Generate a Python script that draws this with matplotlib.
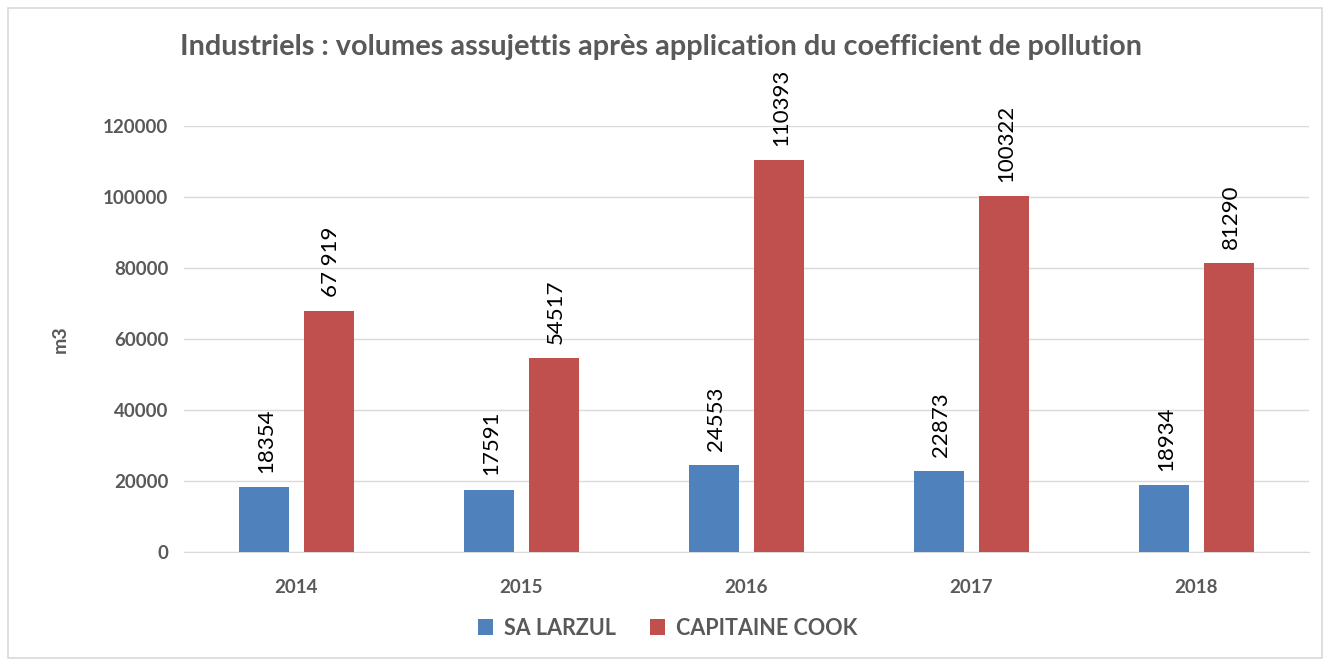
import numpy as np
import matplotlib.pyplot as plt
from matplotlib.patches import Rectangle

annees = ["2014", "2015", "2016", "2017", "2018"]
larzul = [18354, 17591, 24553, 22873, 18934]
cook = [67919, 54517, 110393, 100322, 81290]
lab_larzul = ["18354", "17591", "24553", "22873", "18934"]
lab_cook = ["67 919", "54517", "110393", "100322", "81290"]

plt.rcParams['font.family'] = ['Lato', 'DejaVu Sans']
gris = "#595959"

fig = plt.figure(figsize=(13.3, 6.66), dpi=100)
fig.patches.append(Rectangle((0.006, 0.012), 0.988, 0.976, transform=fig.transFigure,
                             fill=False, edgecolor="#d9d9d9", linewidth=1.2))
ax = fig.add_axes([0.138, 0.171, 0.846, 0.64])

x = np.arange(len(annees))
w = 0.222
d = 0.289
b1 = ax.bar(x - d/2, larzul, w, color="#4f81bd", label="SA LARZUL", zorder=3)
b2 = ax.bar(x + d/2, cook, w, color="#c0504d", label="CAPITAINE COOK", zorder=3)

for rect, t in zip(b1, lab_larzul):
    ax.text(rect.get_x() + rect.get_width()/2 + 0.01, rect.get_height() + 4000, t,
            rotation=90, ha="center", va="bottom", fontsize=16, color="black", clip_on=False)
for rect, t in zip(b2, lab_cook):
    ax.text(rect.get_x() + rect.get_width()/2 + 0.01, rect.get_height() + 4000, t,
            rotation=90, ha="center", va="bottom", fontsize=16, color="black", clip_on=False)

ax.set_xlim(-0.5, len(annees) - 0.5)
ax.set_ylim(0, 120000)
ax.set_yticks(np.arange(0, 120001, 20000))
ax.set_xticks(x)
ax.set_xticklabels(annees)
ax.yaxis.grid(True, color="#d9d9d9", linewidth=1, zorder=0)
for s in ["top", "right", "left"]:
    ax.spines[s].set_visible(False)
ax.spines["bottom"].set_color("#d9d9d9")
ax.tick_params(axis="both", length=0, labelsize=13.5, labelcolor=gris)
for lbl in ax.get_xticklabels() + ax.get_yticklabels():
    lbl.set_fontweight("bold")
ax.tick_params(axis="y", pad=11)
ax.tick_params(axis="x", pad=19)

ax.set_ylabel("m3", fontsize=14, color=gris, fontweight="bold", labelpad=25)

fig.text(0.497, 0.930, "Industriels : volumes assujettis après application du coefficient de pollution",
         ha="center", va="center", fontsize=20.8, color=gris, fontweight="bold")

leg = fig.legend(handles=[b1, b2], loc="center", bbox_to_anchor=(0.502, 0.057), ncol=2,
                 frameon=False, fontsize=15.5, handlelength=0.7, handleheight=0.7,
                 handletextpad=0.5, columnspacing=1.6)
for t in leg.get_texts():
    t.set_color(gris)
    t.set_fontweight("bold")

fig.savefig("out.png", dpi=100)
